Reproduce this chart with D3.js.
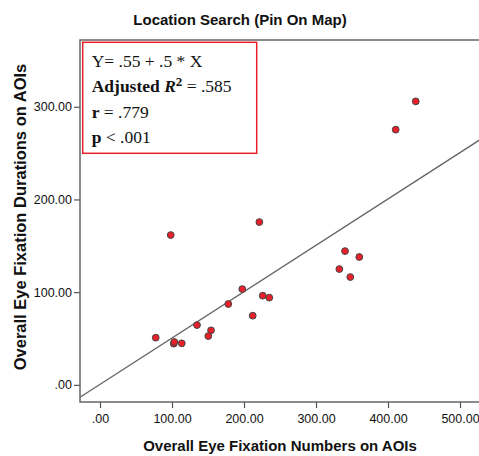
<!DOCTYPE html>
<html>
<head>
<meta charset="utf-8">
<script src="https://cdn.jsdelivr.net/npm/d3@7"></script>
<style>
  body { margin: 0; background: #fff; }
  .tick text { font-family: "Liberation Sans", Arial, sans-serif; font-size: 12.5px; fill: #111; }
  .axisLabel { font-family: "Liberation Sans", Arial, sans-serif; font-weight: bold; font-size: 15px; fill: #111; }
  .stats { font-family: "Liberation Serif", "Times New Roman", serif; font-size: 17.5px; fill: #111; }
</style>
</head>
<body>
<div id="chart"></div>
<script>
var svgWidth = 479;
var svgHeight = 456;

var fixNumbers = [438.5, 410.7, 98.2, 221.3, 197.6, 178.2, 226, 235.1, 77.4, 102.4,
                  103.2, 113.5, 134.7, 150.4, 154.2, 212.1, 340.3, 360.1, 332.4, 347.6];
var fixDurations = [305.8, 275.3, 161.6, 175.6, 103.3, 87.2, 96.2, 94.1, 50.9, 44.4,
                    46.2, 44.8, 64.5, 52.6, 58.8, 74.6, 144.3, 137.9, 124.9, 116.3];
var xTicks = [0, 100, 200, 300, 400, 500];
var yTicks = [0, 100, 200, 300];
var fitIntercept = 0.55;
var fitSlope = 0.5;
var statLines = [
  [{t: "Y", b: false}, {t: "= .55 + .5 * X", b: false}],
  [{t: "Adjusted ", b: true}, {t: "R", b: true, i: true}, {t: "2", b: true, sup: true}, {t: " = .585", b: false, down: true}],
  [{t: "r", b: true}, {t: " = .779", b: false}],
  [{t: "p", b: true}, {t: " < .001", b: false}]
];

var margin = { top: 40, right: -12, bottom: 54, left: 80 };
var width = svgWidth - margin.left - margin.right;
var height = svgHeight - margin.top - margin.bottom;

var data = fixNumbers.map(function(d, i) { return { x: d, y: fixDurations[i] }; });

var svg = d3.select("#chart")
  .append("svg")
  .attr("width", svgWidth)
  .attr("height", svgHeight);

var chartGroup = svg.append("g")
  .attr("transform", `translate(${margin.left}, ${margin.top})`);

// scales
var xScale = d3.scaleLinear()
  .domain([-27.8, -27.8 + width / 0.72])
  .range([0, width]);

var yScale = d3.scaleLinear()
  .domain([-18.5, -18.5 + height / 0.927])
  .range([height, 0]);

var fmt = function(d) { return d3.format(".2f")(d).replace(/^0/, ""); };

var xAxis = d3.axisBottom(xScale).tickValues(xTicks).tickFormat(fmt).tickSize(6).tickPadding(6);
var yAxis = d3.axisLeft(yScale).tickValues(yTicks).tickFormat(fmt).tickSize(6).tickPadding(2);

var gx = chartGroup.append("g")
  .attr("transform", `translate(0, ${height})`)
  .call(xAxis);
var gy = chartGroup.append("g")
  .call(yAxis);
[gx, gy].forEach(function(g) {
  g.select(".domain").remove();
  g.selectAll(".tick line").attr("stroke", "#555").attr("stroke-width", 1.2);
});

// frame
chartGroup.append("rect")
  .attr("x", 0).attr("y", 0)
  .attr("width", width).attr("height", height)
  .attr("fill", "none")
  .attr("stroke", "#666")
  .attr("stroke-width", 1.5);

// fit line
chartGroup.append("defs").append("clipPath").attr("id", "clip")
  .append("rect").attr("width", width).attr("height", height);

var x0 = xScale.domain()[0], x1 = xScale.domain()[1];
chartGroup.append("line")
  .attr("clip-path", "url(#clip)")
  .attr("x1", xScale(x0)).attr("y1", yScale(fitIntercept + fitSlope * x0))
  .attr("x2", xScale(x1)).attr("y2", yScale(fitIntercept + fitSlope * x1))
  .attr("stroke", "#666")
  .attr("stroke-width", 1.3);

// points
chartGroup.selectAll("circle")
  .data(data)
  .enter()
  .append("circle")
  .attr("cx", d => xScale(d.x))
  .attr("cy", d => yScale(d.y))
  .attr("r", 3.4)
  .attr("fill", "#e8202a")
  .attr("stroke", "#444")
  .attr("stroke-width", 1);

// stats box
chartGroup.append("rect")
  .attr("x", 2.7).attr("y", 2.3)
  .attr("width", 174).attr("height", 111)
  .attr("fill", "#fff")
  .attr("stroke", "#e8202a")
  .attr("stroke-width", 1.5);

statLines.forEach(function(line, i) {
  var t = chartGroup.append("text")
    .attr("class", "stats")
    .attr("x", 11.7)
    .attr("y", 26.7 + i * 25.5);
  line.forEach(function(p) {
    var s = t.append("tspan").text(p.t);
    if (p.b) s.attr("font-weight", "bold");
    if (p.i) s.attr("font-style", "italic");
    if (p.sup) s.attr("font-size", "13px").attr("dy", -6);
    if (p.down) s.attr("dy", 6);
  });
});

// title and axis labels
svg.append("text")
  .attr("class", "axisLabel")
  .attr("x", 240).attr("y", 25)
  .attr("text-anchor", "middle")
  .text("Location Search (Pin On Map)");

svg.append("text")
  .attr("class", "axisLabel")
  .attr("x", 280).attr("y", 451)
  .attr("text-anchor", "middle")
  .text("Overall Eye Fixation Numbers on AOIs");

svg.append("text")
  .attr("class", "axisLabel")
  .attr("transform", "rotate(-90)")
  .attr("x", -217).attr("y", 26)
  .attr("text-anchor", "middle")
  .style("font-size", "16.5px")
  .text("Overall Eye Fixation Durations on AOIs");
</script>
</body>
</html>
